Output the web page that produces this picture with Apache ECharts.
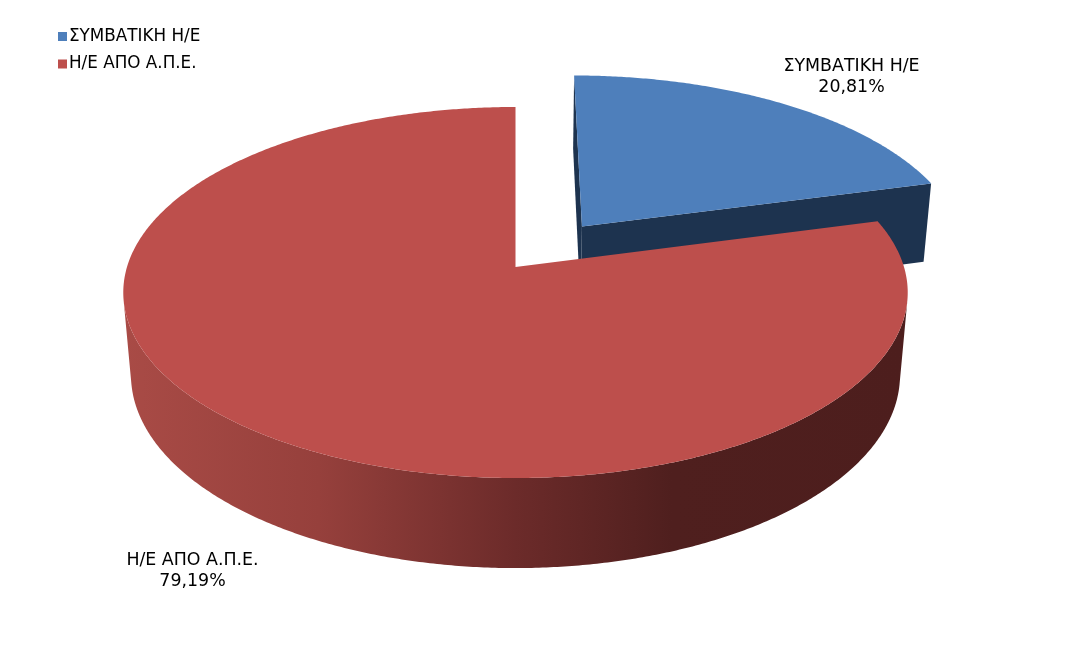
<!DOCTYPE html>
<html><head><meta charset="utf-8">
<style>html,body{margin:0;padding:0;background:#fff}#c{width:1077px;height:670px}</style>
<script src="https://cdn.jsdelivr.net/npm/echarts@6/dist/echarts.min.js"></script>
</head><body><div id="c"></div>
<script>
const categories = ['ΣΥΜΒΑΤΙΚΗ Η/Ε', 'Η/Ε ΑΠΟ Α.Π.Ε.'];
const values = [20.81, 79.19];
const explode = [0.29, 0];
const topColors = ['#4e7fbb', '#bd4f4c'];
const labelAnchors = [[851.5, 76.5], [192.5, 571]];

// Perspective camera of the 3D pie
const CX = 515.5, CY = 267, AX = 388.5, AY = 182, K = 0.1375, M = 0.0197, C = -83.6;
function project(u, v, z) {
  const w = 1 + K * v + M * z;
  return [CX + AX * u / w, CY - (AY * v + C * z) / w];
}
const total = values.reduce((a, b) => a + b, 0);
const FONT = '17.4px "DejaVu Sans"';

function sliceAngles(i) {
  let s = 0;
  for (let k = 0; k < i; k++) s += values[k];
  return [s / total * 2 * Math.PI, (s + values[i]) / total * 2 * Math.PI];
}
// part of the outer wall that faces the viewer (longest run of front-facing segments)
function frontRun(top, bottom) {
  let best = [0, -1], start = -1;
  for (let j = 0; j < top.length; j++) {
    let front = false;
    if (j < top.length - 1) {
      const q = [top[j], top[j + 1], bottom[j + 1], bottom[j]];
      let area = 0;
      for (let n = 0; n < 4; n++) {
        const a = q[n], b = q[(n + 1) % 4];
        area += a[0] * b[1] - b[0] * a[1];
      }
      front = area < 0;
    }
    if (front && start < 0) start = j;
    if (!front && start >= 0) {
      if (j - start > best[1] - best[0]) best = [start, j];
      start = -1;
    }
  }
  return best[1] < 0 ? null : best;
}
function renderSlice(i) {
  const [a0, a1] = sliceAngles(i);
  const mid = (a0 + a1) / 2;
  const u0 = explode[i] * Math.sin(mid), v0 = explode[i] * Math.cos(mid);
  const rim = z => {
    const pts = [], n = Math.ceil((a1 - a0) * 120);
    for (let j = 0; j <= n; j++) {
      const t = a0 + (a1 - a0) * j / n;
      pts.push(project(u0 + Math.sin(t), v0 + Math.cos(t), z));
    }
    return pts;
  };
  const top = rim(0), bottom = rim(1);
  const apexT = project(u0, v0, 0), apexB = project(u0, v0, 1);
  const poly = (points, fill) => ({type: 'polygon', shape: {points}, style: {fill}, silent: true});
  const sideFill = i === 0 ? '#1d334f' : new echarts.graphic.LinearGradient(123, 0, 907, 0, [
    {offset: 0, color: '#a94b46'},
    {offset: 0.25, color: '#96403c'},
    {offset: 0.5, color: '#6c2b2a'},
    {offset: 0.7, color: '#4f1f1e'},
    {offset: 1, color: '#4d1e1d'}
  ], true);
  const children = [];
  if (i === 0) {
    children.push(poly([apexT, top[0], bottom[0], apexB], '#1d334f'));
    children.push(poly([apexT, top[top.length - 1], bottom[bottom.length - 1], apexB], '#1d334f'));
  }
  const run = frontRun(top, bottom);
  if (run) {
    children.push(poly(top.slice(run[0], run[1] + 1)
      .concat(bottom.slice(run[0], run[1] + 1).reverse()), sideFill));
  }
  children.push(poly([apexT].concat(top), topColors[i]));
  children.push({
    type: 'text', silent: true,
    style: {
      x: labelAnchors[i][0], y: labelAnchors[i][1],
      text: categories[i] + '\n' + values[i].toFixed(2).replace('.', ',') + '%',
      font: FONT, fill: '#000', align: 'center', verticalAlign: 'middle', lineHeight: 21
    }
  });
  return {type: 'group', children};
}

const chart = echarts.init(document.getElementById('c'), null, {renderer: 'canvas'});
chart.setOption({
  animation: false,
  backgroundColor: '#fff',
  legend: {
    orient: 'vertical', left: 53, top: 23, icon: 'rect',
    itemWidth: 9, itemHeight: 9, itemGap: 10.5,
    selectedMode: false,
    textStyle: {fontFamily: 'DejaVu Sans', fontSize: 16.8, color: '#000', padding: [0, 0, 0, -3]},
    data: categories
  },
  series: categories.map((name, i) => ({
    type: 'custom', name, coordinateSystem: 'none', z: 2 + i,
    itemStyle: {color: topColors[i]},
    data: [values[i]],
    renderItem: () => renderSlice(i)
  }))
});
</script></body></html>
